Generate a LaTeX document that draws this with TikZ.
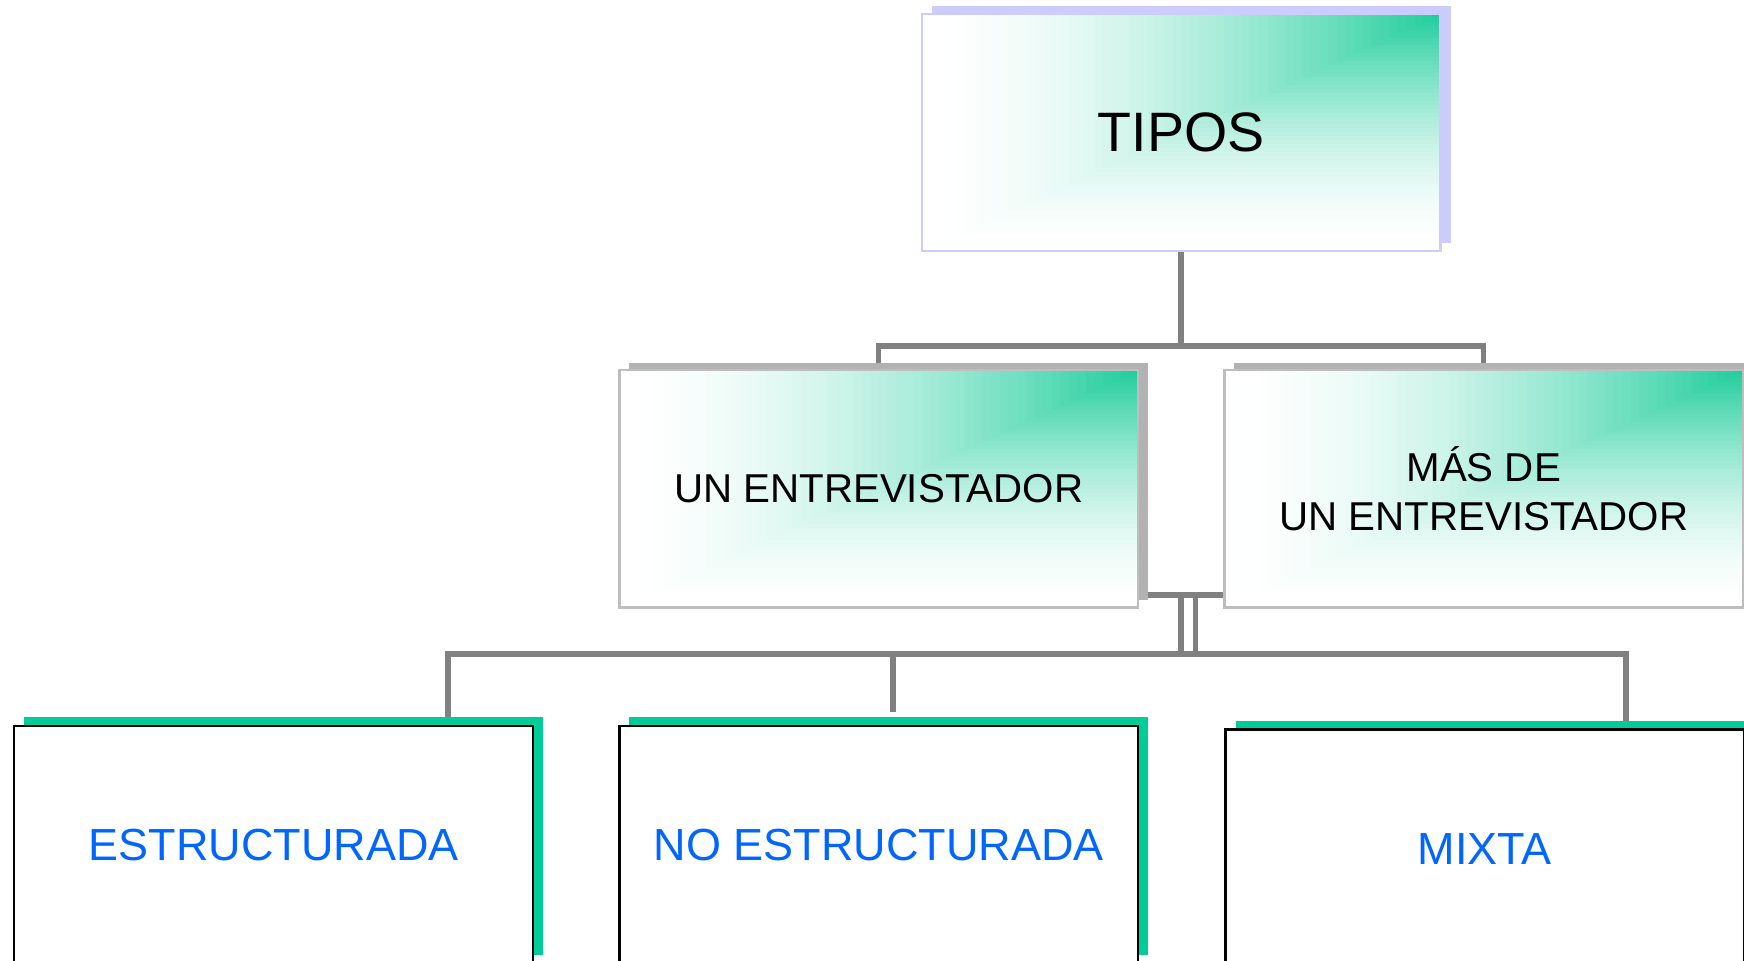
\documentclass[tikz,border=0pt]{standalone}
\usepackage{fontspec}
\setmainfont{Liberation Sans}
\usetikzlibrary{shadows,backgrounds,calc}
\definecolor{verde}{RGB}{0,204,153}
\definecolor{verdeclaro}{RGB}{28,204,154}
\definecolor{lila}{RGB}{204,204,255}
\definecolor{sombra}{RGB}{178,178,178}
\definecolor{borde}{RGB}{190,190,190}
\definecolor{linea}{RGB}{128,128,128}
\definecolor{azul}{RGB}{0,102,255}
\tikzset{
	caja/.style={
			fill=white, minimum width=4.66cm, minimum height=2.13cm, inner sep=0pt, align=center,
			path picture={
					\foreach \i [evaluate=\i as \pct using {100*(1-\i/60)^1.7}] in {60,...,1}
					\fill[verdeclaro!\pct!white] (path picture bounding box.north east) rectangle
					($(path picture bounding box.north east)!\i/60!(path picture bounding box.south west)$);
				}
		},
	tipobox/.style={caja, draw=lila, line width=.6pt,
			general shadow={fill=lila, shadow xshift=.09cm, shadow yshift=.07cm},
			font=\fontsize{14.2}{17}\selectfont},
	nivelbox/.style={caja, draw=borde, line width=.6pt,
			general shadow={fill=sombra, shadow xshift=.09cm, shadow yshift=.07cm},
			font=\fontsize{10.3}{12.5}\selectfont},
	hojabox/.style={draw=black, fill=white, line width=.6pt,
			minimum width=4.66cm, minimum height=2.14cm, inner sep=0pt,
			general shadow={fill=verde, shadow xshift=.09cm, shadow yshift=.08cm},
			text=azul, font=\fontsize{11.5}{14}\selectfont},
	link/.style={draw=linea, line width=1.4pt}
}

\begin{document}
\begin{tikzpicture}[x=0.01cm, y=-0.01cm]
        \useasboundingbox (0,0) rectangle (1568,864);
        \clip (0,0) rectangle (1568,864);
        \node[tipobox] (tipos) at (1062,119) {TIPOS};
        \node[nivelbox] (uno) at (790,439.5) {UN ENTREVISTADOR};
        \node[nivelbox] (mas) at (1334,439.5) {MÁS DE\\UN ENTREVISTADOR};
        \node[hojabox] (estr) at (246,760) {ESTRUCTURADA};
        \node[hojabox] (noestr) at (790,760) {NO ESTRUCTURADA};
        \node[hojabox] (mixta) at (1335,763) {MIXTA};
        \begin{scope}[on background layer]
            \fill[white] (0,0) rectangle (1568,864);
            \coordinate (bus_top) at (1062,311);
            \coordinate (bus_mid) at (1062,535);
            \coordinate (bus_low) at (1062,588);
            \draw[link] (tipos.south) -- (bus_top);
            \draw[link] (uno.north) |- (bus_top) -| (mas.north);
            \draw[link] (uno.east |- bus_mid) -- (mas.west |- bus_mid);
            \foreach \x in {1062,1075}
                \draw[link] (\x,535) -- (\x,588);
            \draw[link] (estr.north -| 403,0) -- (403,588) -- (1462,588) -- (mixta.north -| 1462,0);
            \draw[link] (803,588) -- (803,640);
        \end{scope}
    \end{tikzpicture}
\end{document}
